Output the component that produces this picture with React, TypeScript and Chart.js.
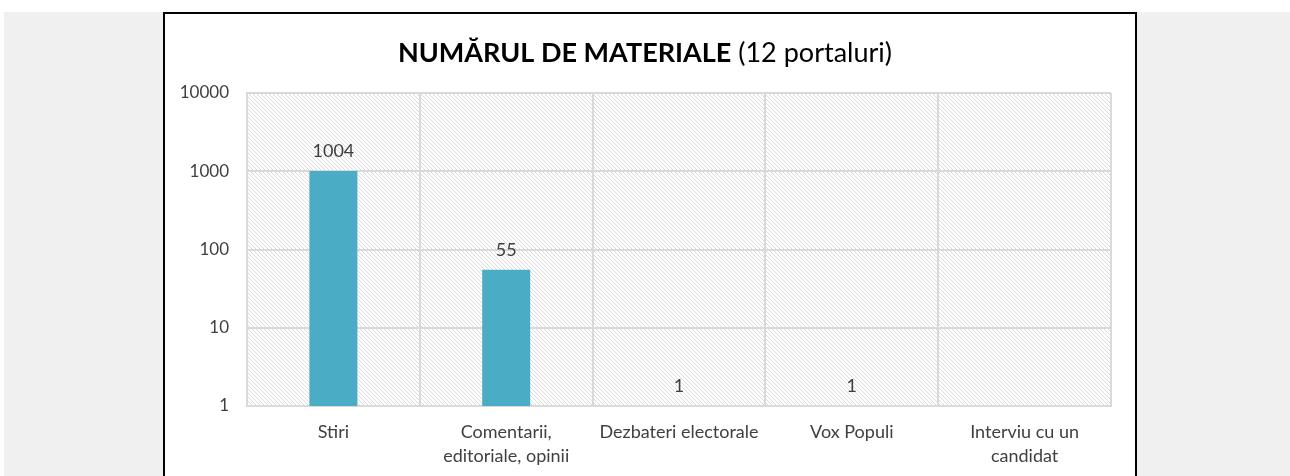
import React, { useEffect, useRef } from "react";
import { Chart, registerables } from "chart.js";

Chart.register(...registerables);

const categories: (string | string[])[] = [
  "Stiri",
  ["Comentarii,", "editoriale, opinii"],
  "Dezbateri electorale",
  "Vox Populi",
  ["Interviu cu un", "candidat"],
];
const values: number[] = [1004, 55, 1, 1, 0];
const yTicks: number[] = [1, 10, 100, 1000, 10000];
const titleBold = "NUMĂRUL DE MATERIALE";
const titleNormal = " (12 portaluri)";

const FONT = "Lato, 'Open Sans', sans-serif";
const TEXT = "#404040";
const GRID = "#d9d9d9";
const BAR = "#4bacc6";

function makePattern(ctx: CanvasRenderingContext2D) {
  const c = document.createElement("canvas");
  c.width = 4;
  c.height = 4;
  const p = c.getContext("2d")!;
  p.fillStyle = "#ffffff";
  p.fillRect(0, 0, 4, 4);
  p.fillStyle = "#dadada";
  for (let i = 0; i < 4; i++) p.fillRect(i, i, 1, 1);
  return ctx.createPattern(c, "repeat");
}

const hatchPlugin = {
  id: "hatch",
  beforeDraw(chart: any) {
    const { ctx, chartArea } = chart;
    const pat = makePattern(ctx);
    if (!pat) return;
    ctx.save();
    ctx.fillStyle = pat;
    ctx.fillRect(chartArea.left, chartArea.top, chartArea.right - chartArea.left, chartArea.bottom - chartArea.top);
    ctx.restore();
  },
};

const titlePlugin = {
  id: "mixedTitle",
  afterDraw(chart: any) {
    const { ctx } = chart;
    ctx.save();
    const boldFont = `bold 27px ${FONT}`;
    const normFont = `27px ${FONT}`;
    ctx.font = boldFont;
    const wb = ctx.measureText(titleBold).width;
    ctx.font = normFont;
    const wn = ctx.measureText(titleNormal).width;
    const cx = 480;
    const x0 = cx - (wb + wn) / 2;
    const y = 48;
    ctx.textBaseline = "alphabetic";
    ctx.textAlign = "left";
    ctx.fillStyle = "#000000";
    ctx.font = boldFont;
    ctx.fillText(titleBold, x0, y);
    ctx.font = normFont;
    ctx.fillText(titleNormal, x0 + wb, y);
    ctx.restore();
  },
};

const labelPlugin = {
  id: "valueLabels",
  afterDatasetsDraw(chart: any) {
    const { ctx } = chart;
    const meta = chart.getDatasetMeta(0);
    ctx.save();
    ctx.font = `18px ${FONT}`;
    ctx.fillStyle = TEXT;
    ctx.textAlign = "center";
    ctx.textBaseline = "alphabetic";
    meta.data.forEach((bar: any, i: number) => {
      const v = values[i];
      if (!v) return;
      ctx.fillText(String(v), bar.x, bar.y - 14);
    });
    ctx.restore();
  },
};

export default function App() {
  const ref = useRef<HTMLCanvasElement>(null);
  useEffect(() => {
    if (!ref.current) return;
    const chart = new Chart(ref.current, {
      type: "bar",
      data: {
        labels: categories as any,
        datasets: [
          {
            data: values,
            backgroundColor: BAR,
            borderWidth: 0,
            barPercentage: 48 / 172.8,
            categoryPercentage: 1,
          },
        ],
      },
      options: {
        animation: false,
        responsive: false,
        maintainAspectRatio: false,
        layout: { padding: { top: 79, left: 0, right: 24, bottom: 0 } },
        plugins: {
          legend: { display: false },
          title: { display: false },
          tooltip: { enabled: false },
        },
        scales: {
          x: {
            grid: { color: GRID, lineWidth: 2, drawTicks: false, offset: true },
            border: { color: GRID, width: 2 },
            ticks: {
              color: TEXT,
              font: { family: FONT, size: 18, lineHeight: 1.33 },
              padding: 14,
              maxRotation: 0,
              autoSkip: false,
            },
            afterFit(scale: any) {
              scale.height = 70;
            },
          },
          y: {
            type: "logarithmic",
            min: 1,
            max: 10000,
            grid: { color: GRID, lineWidth: 2, drawTicks: false },
            border: { color: GRID, width: 2 },
            ticks: {
              color: TEXT,
              font: { family: FONT, size: 17 },
              padding: 18,
              callback: (v: any) => String(v),
            },
            afterBuildTicks(scale: any) {
              scale.ticks = yTicks.map((v) => ({ value: v }));
            },
            afterFit(scale: any) {
              scale.width = 82;
            },
          },
        },
      },
      plugins: [hatchPlugin, titlePlugin, labelPlugin],
    });
    (document as any).fonts?.load?.(`17px Lato`).then(() => {
      (document as any).fonts.load(`bold 27px Lato`).then(() => chart.update());
    });
    return () => chart.destroy();
  }, []);

  return (
    <div style={{ position: "absolute", left: 0, top: 0, width: 1290, height: 476, background: "#ffffff", overflow: "hidden" }}>
      <div style={{ position: "absolute", left: 4, top: 12, width: 1286, height: 464, background: "#f0f0f0" }} />
      <div
        style={{
          position: "absolute",
          left: 163,
          top: 12,
          width: 970,
          height: 470,
          background: "#ffffff",
          borderLeft: "2px solid #000",
          borderTop: "2px solid #000",
          borderRight: "2px solid #000",
        }}
      >
        <canvas ref={ref} width={970} height={462} style={{ display: "block", width: 970, height: 462 }} />
      </div>
    </div>
  );
}
